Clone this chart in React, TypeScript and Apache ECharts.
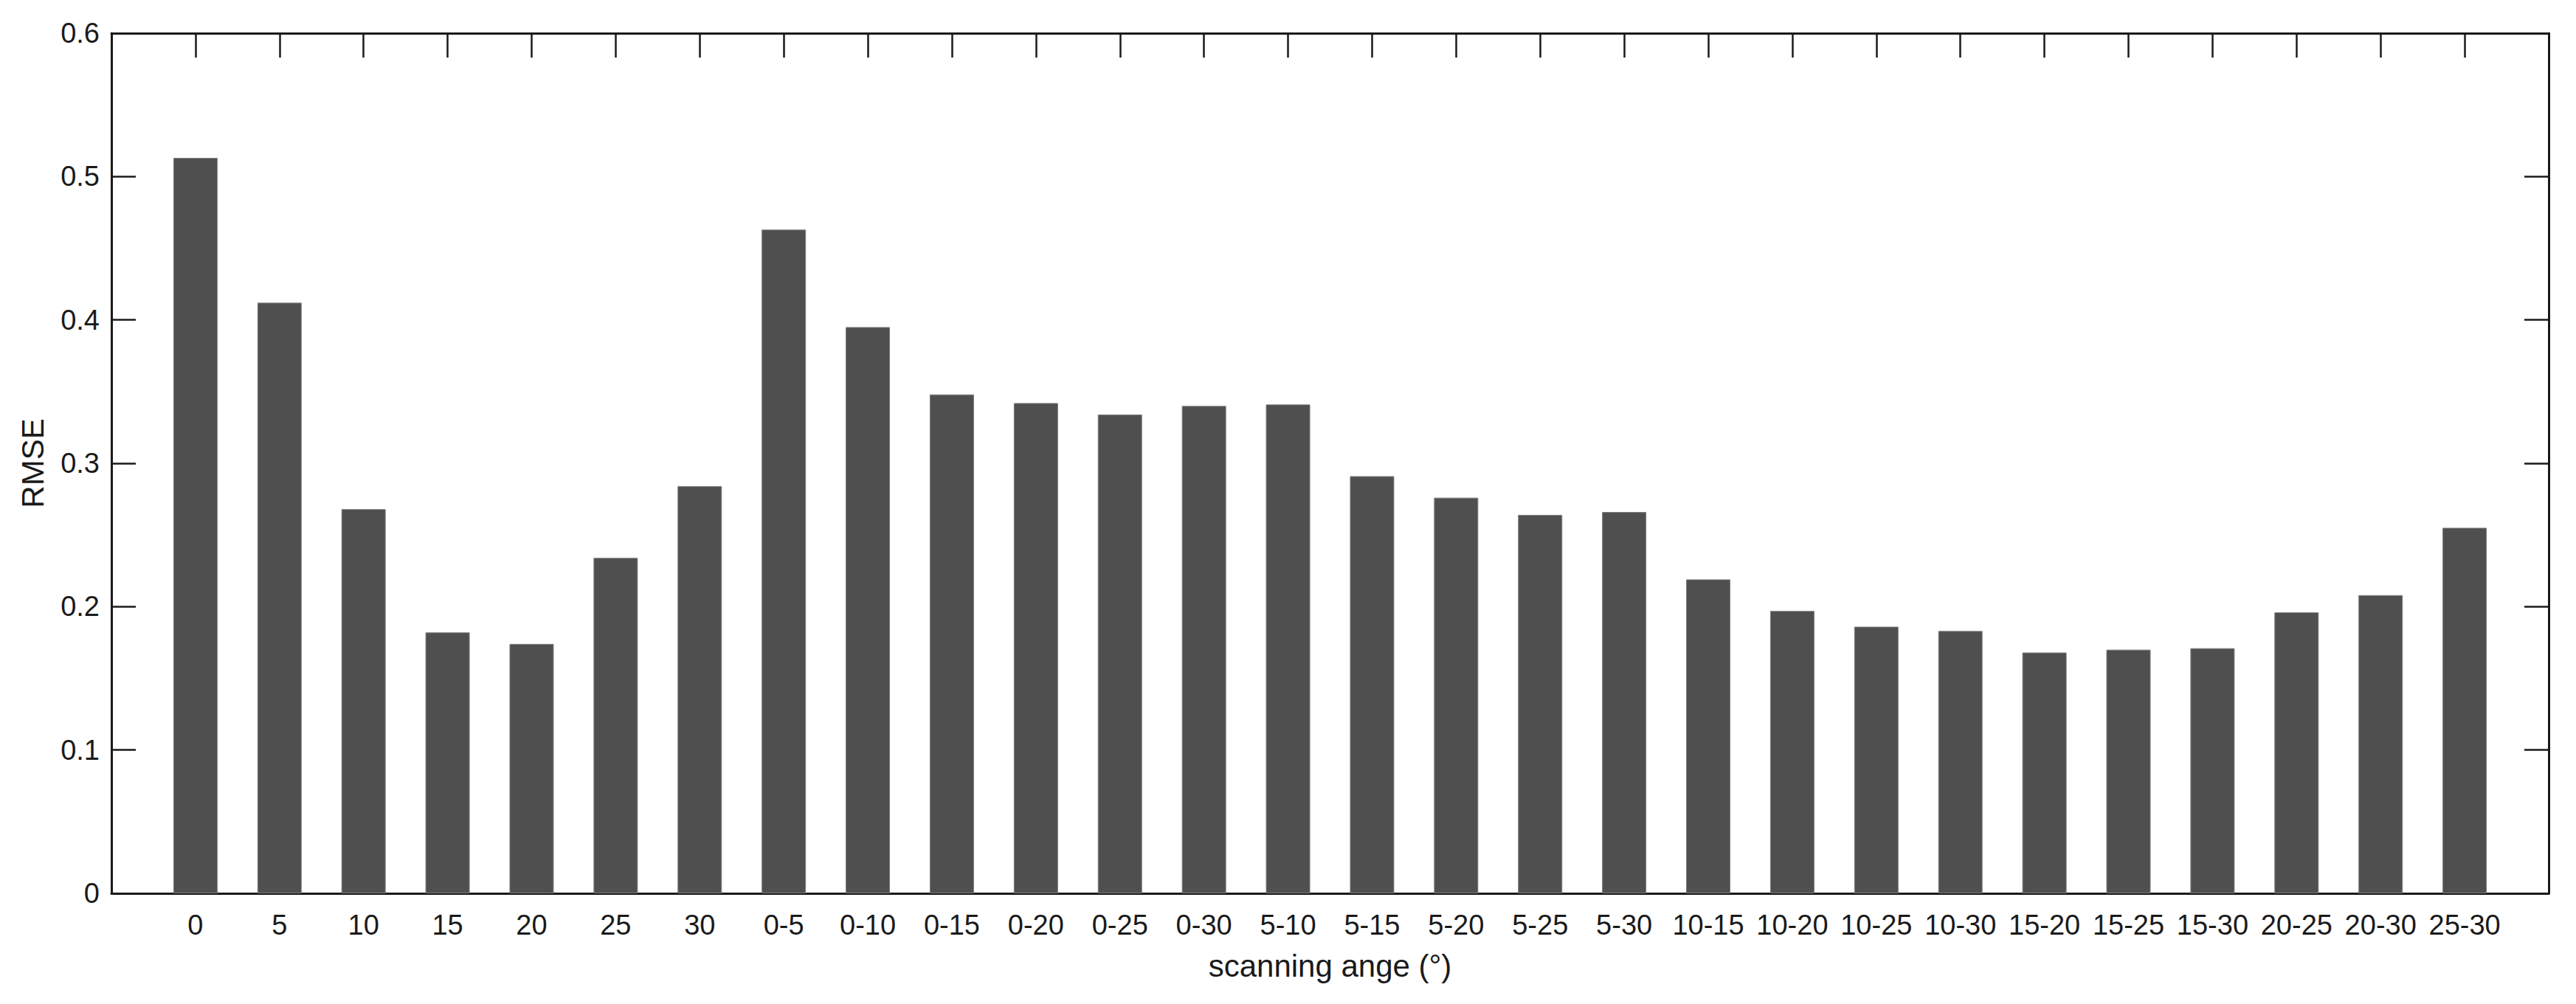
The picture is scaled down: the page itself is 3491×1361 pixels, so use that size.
import React, { useEffect, useRef } from "react";
import * as echarts from "echarts";

const categories = [
  "0", "5", "10", "15", "20", "25", "30",
  "0-5", "0-10", "0-15", "0-20", "0-25", "0-30",
  "5-10", "5-15", "5-20", "5-25", "5-30",
  "10-15", "10-20", "10-25", "10-30",
  "15-20", "15-25", "15-30",
  "20-25", "20-30", "25-30",
];

const rmse = [
  0.513, 0.412, 0.268, 0.182, 0.174, 0.234, 0.284,
  0.463, 0.395, 0.348, 0.342, 0.334, 0.340,
  0.341, 0.291, 0.276, 0.264, 0.266,
  0.219, 0.197, 0.186, 0.183,
  0.168, 0.170, 0.171,
  0.196, 0.208, 0.255,
];

const yMin = 0;
const yMax = 0.6;
const yStep = 0.1;

const xAxisName = "scanning ange (°)";
const yAxisName = "RMSE";

const FONT = "'Liberation Sans', Arial, Helvetica, sans-serif";
const INK = "#1a1a1a";

export default function App() {
  const ref = useRef<HTMLDivElement>(null);

  useEffect(() => {
    document.body.style.margin = "0";
    if (!ref.current) return;
    const chart = echarts.init(ref.current, undefined, { renderer: "svg" });

    const xCount = categories.length + 1;
    const lineStyle = { color: INK, width: 3 };
    const tickStyle = { color: INK, width: 2.5 };

    chart.setOption({
      animation: false,
      backgroundColor: "#ffffff",
      grid: { left: 151, right: 37, top: 45, bottom: 150, containLabel: false },
      xAxis: [
        {
          type: "value",
          position: "bottom",
          min: 0,
          max: xCount,
          interval: 1,
          splitLine: { show: false },
          axisLine: { show: true, onZero: false, lineStyle },
          axisTick: { show: true, inside: true, length: 33, lineStyle: tickStyle },
          axisLabel: {
            show: true,
            margin: 24,
            fontSize: 38,
            fontFamily: FONT,
            color: INK,
            formatter: (v: number) => {
              const i = Math.round(v) - 1;
              return i >= 0 && i < categories.length ? categories[i] : "";
            },
          },
          name: xAxisName,
          nameLocation: "middle",
          nameGap: 77,
          nameTextStyle: { fontSize: 42, fontFamily: FONT, color: INK },
        },
        {
          type: "value",
          position: "top",
          min: 0,
          max: xCount,
          interval: 1,
          splitLine: { show: false },
          axisLine: { show: true, onZero: false, lineStyle },
          axisTick: { show: true, inside: true, length: 33, lineStyle: tickStyle },
          axisLabel: { show: false },
        },
      ],
      yAxis: [
        {
          type: "value",
          position: "left",
          min: yMin,
          max: yMax,
          interval: yStep,
          splitLine: { show: false },
          axisLine: { show: true, onZero: false, lineStyle },
          axisTick: { show: true, inside: true, length: 33, lineStyle: tickStyle },
          axisLabel: {
            show: true,
            margin: 16,
            fontSize: 38,
            fontFamily: FONT,
            color: INK,
            formatter: (v: number) => (Math.abs(v) < 1e-9 ? "0" : v.toFixed(1)),
          },
          name: yAxisName,
          nameLocation: "middle",
          nameGap: 86,
          nameTextStyle: { fontSize: 42, fontFamily: FONT, color: INK },
        },
        {
          type: "value",
          position: "right",
          min: yMin,
          max: yMax,
          interval: yStep,
          splitLine: { show: false },
          axisLine: { show: true, onZero: false, lineStyle },
          axisTick: { show: true, inside: true, length: 33, lineStyle: tickStyle },
          axisLabel: { show: false },
        },
      ],
      series: [
        {
          type: "bar",
          xAxisIndex: 0,
          yAxisIndex: 0,
          barWidth: 60,
          data: rmse.map((v, i) => [i + 1, v]),
          itemStyle: { color: "#4f4f4f", borderColor: "#7d7d7d", borderWidth: 1 },
        },
      ],
    });

    return () => chart.dispose();
  }, []);

  return <div ref={ref} style={{ width: 3491, height: 1361 }} />;
}
